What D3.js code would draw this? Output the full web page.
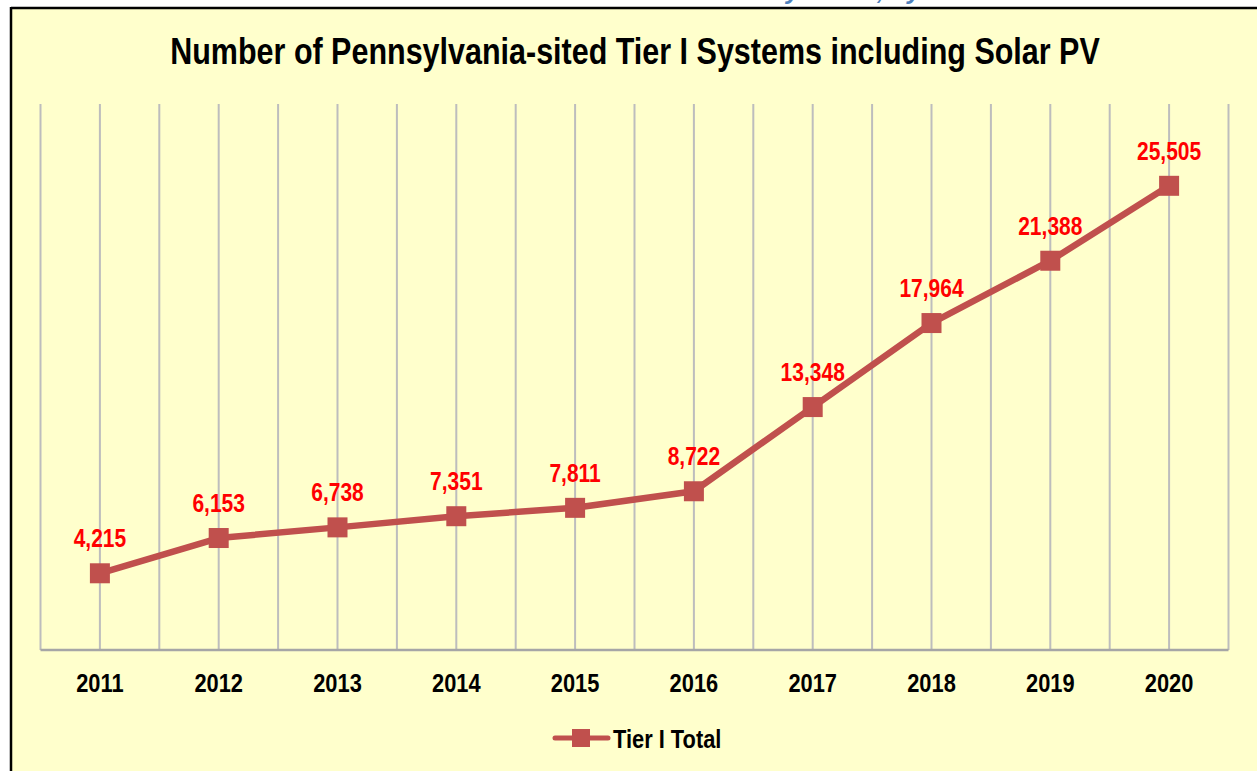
<!DOCTYPE html>
<html>
<head>
<meta charset="utf-8">
<script src="https://cdn.jsdelivr.net/npm/d3@7"></script>
<style>
  html, body { margin: 0; padding: 0; background: #ffffff; }
  svg { display: block; }
  text { font-family: "Liberation Sans Narrow", "Arial Narrow", "Liberation Sans", Arial, sans-serif; font-weight: bold; }
</style>
</head>
<body>
<svg id="chart" width="1257" height="771"></svg>
<script>
// Tier I systems sited in Pennsylvania, by reporting year
const years = ["2011", "2012", "2013", "2014", "2015", "2016", "2017", "2018", "2019", "2020"];
const tierTotal = [4215, 6153, 6738, 7351, 7811, 8722, 13348, 17964, 21388, 25505];
const seriesName = "Tier I Total";
const chartTitle = "Number of Pennsylvania-sited Tier I Systems including Solar PV";
const yMax = 30000;

const W = 1257, H = 771;
const plot = { left: 40.5, right: 1228.5, top: 104, bottom: 650 };
const lineColor = "#C0504D";
const narrow = "scale(0.84,1)";   // condensed lettering

const svg = d3.select("#chart");

// panel background and frame
svg.append("rect").attr("x", 11).attr("y", 8).attr("width", W - 11).attr("height", H - 8).attr("fill", "#FFFFCC");

// running header of the page above, clipped by the frame
svg.append("text")
  .attr("x", 770).attr("y", -1)
  .attr("font-size", 26).attr("font-style", "italic")
  .attr("fill", "#4F81BD")
  .text("by Years, by");

svg.append("line").attr("x1", 11).attr("x2", W).attr("y1", 8).attr("y2", 8)
  .attr("stroke", "#000").attr("stroke-width", 2.5);
svg.append("line").attr("x1", 11).attr("x2", 11).attr("y1", 7).attr("y2", H)
  .attr("stroke", "#000").attr("stroke-width", 2.5);

// scales
const x = d3.scaleBand().domain(years).range([plot.left, plot.right]).padding(0);
const y = d3.scaleLinear().domain([0, yMax]).range([plot.bottom, plot.top]);
const cx = d => x(d) + x.bandwidth() / 2;

// vertical gridlines at band edges and band centres
const gridX = [];
years.forEach(yr => { gridX.push(x(yr)); gridX.push(cx(yr)); });
gridX.push(plot.right);
svg.append("g").selectAll("line").data(gridX).join("line")
  .attr("x1", d => d).attr("x2", d => d)
  .attr("y1", plot.top).attr("y2", plot.bottom)
  .attr("stroke", "#BDBDBD").attr("stroke-width", 2);

// category axis
const xAxis = svg.append("g").attr("transform", `translate(0,${plot.bottom})`)
  .call(d3.axisBottom(x).tickSize(0).tickPadding(23.5));
xAxis.select(".domain").attr("stroke", "#A6A6A6").attr("stroke-width", 2.5)
  .attr("d", `M${plot.left},0H${plot.right}`);
xAxis.selectAll("text").attr("font-size", 26).attr("fill", "#000")
  .attr("font-family", null).attr("font-weight", "bold")
  .attr("transform", narrow);

// series line
const line = d3.line().x((d, i) => cx(years[i])).y(d => y(d));
svg.append("path").datum(tierTotal)
  .attr("d", line).attr("fill", "none")
  .attr("stroke", lineColor).attr("stroke-width", 6.5).attr("stroke-linejoin", "round");

// square markers
const ms = 20;
svg.append("g").selectAll("rect").data(tierTotal).join("rect")
  .attr("x", (d, i) => cx(years[i]) - ms / 2)
  .attr("y", d => y(d) - ms / 2)
  .attr("width", ms).attr("height", ms)
  .attr("fill", lineColor);

// value labels
const fmt = d3.format(",");
svg.append("g").selectAll("g").data(tierTotal).join("g")
  .attr("transform", (d, i) => `translate(${cx(years[i])},${y(d) - 26})`)
  .append("text")
  .attr("transform", narrow)
  .attr("text-anchor", "middle")
  .attr("font-size", 25).attr("fill", "#FF0000")
  .text(d => fmt(d));

// title, condensed to a fixed width
const titleWidth = 930;
const titleG = svg.append("g").attr("transform", "translate(635,64)");
const titleText = titleG.append("text")
  .attr("text-anchor", "middle")
  .attr("font-size", 37).attr("fill", "#000")
  .text(chartTitle);
const natural = titleText.node().getComputedTextLength();
titleText.attr("transform", `scale(${titleWidth / natural},1)`);

// legend
const lg = svg.append("g").attr("transform", "translate(0,738)");
lg.append("line").attr("x1", 555).attr("x2", 608).attr("y1", 0).attr("y2", 0)
  .attr("stroke", lineColor).attr("stroke-width", 5).attr("stroke-linecap", "round");
lg.append("rect").attr("x", 572).attr("y", -9).attr("width", 18).attr("height", 18).attr("fill", lineColor);
lg.append("g").attr("transform", "translate(613,9.5)")
  .append("text").attr("transform", narrow)
  .attr("font-size", 26).attr("fill", "#000")
  .text(seriesName);
</script>
</body>
</html>
